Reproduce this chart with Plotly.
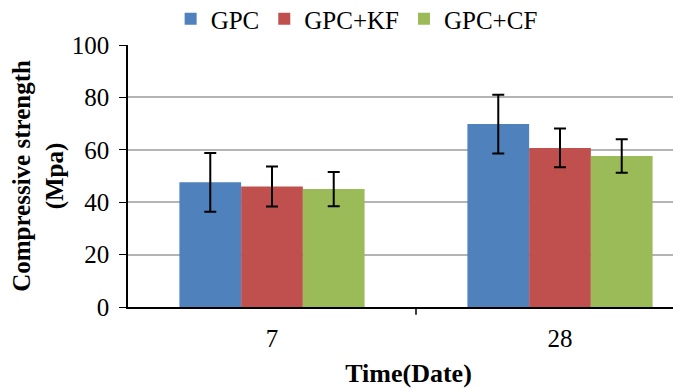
import plotly.graph_objects as go

categories = ["7", "28"]
series = ["GPC", "GPC+KF", "GPC+CF"]
values = {
    "GPC": [47.6, 69.8],
    "GPC+KF": [46.0, 60.7],
    "GPC+CF": [45.0, 57.6],
}
errors = {
    "GPC": [11.2, 11.2],
    "GPC+KF": [7.6, 7.4],
    "GPC+CF": [6.5, 6.4],
}
colors = {"GPC": "#4F81BD", "GPC+KF": "#C0504D", "GPC+CF": "#9BBB59"}

font = "Liberation Serif, Times New Roman, serif"
xpos = list(range(len(categories)))

L, R, T, B = 120, 0, 37, 91
W, H = 681, 390
plot_w = W - L - R
plot_h = H - T - B

fig = go.Figure()
for s in series:
    fig.add_trace(go.Bar(
        x=xpos, y=values[s], name=s,
        marker=dict(color=colors[s], line=dict(width=0)),
        error_y=dict(type="data", array=errors[s], visible=True,
                     color="black", thickness=2, width=6),
    ))

fig.update_layout(
    width=W, height=H,
    margin=dict(l=L, r=R, t=T, b=B, autoexpand=False),
    paper_bgcolor="white", plot_bgcolor="white",
    barmode="group", bargap=0.357, bargroupgap=0,
    font=dict(family=font, size=26, color="black"),
    legend=dict(orientation="h", x=0.076, xanchor="left", y=1 + (T - 11) / plot_h, yanchor="middle",
                font=dict(family=font, size=25), itemwidth=30, traceorder="normal",
                bgcolor="rgba(0,0,0,0)"),
    showlegend=True,
)
fig.update_xaxes(
    range=[-0.5, -0.5 + plot_w / 288],
    tickvals=xpos, ticktext=categories, ticks="", showgrid=False,
    showline=True, linecolor="black", linewidth=2,
    tickfont=dict(family=font, size=25), ticklabelstandoff=8,
    title=dict(text="<b>Time(Date)</b>", font=dict(family=font, size=26), standoff=13),
    zeroline=False,
)
fig.update_yaxes(
    range=[0, 100], dtick=20, ticks="outside", ticklen=7, tickcolor="black",
    showgrid=True, gridcolor="#B4B4B4", gridwidth=1.5,
    showline=True, linecolor="black", linewidth=1.5,
    tickfont=dict(family=font, size=25), ticklabelstandoff=5,
    title=dict(text="<b>Compressive strength<br>(Mpa)</b>", font=dict(family=font, size=25), standoff=8),
    zeroline=False,
)
# divider tick between categories
fig.add_shape(type="line", xref="x", yref="paper", x0=0.5, x1=0.5, y0=0, y1=-0.03,
              line=dict(color="black", width=1.5))

fig.write_html("out.html")
